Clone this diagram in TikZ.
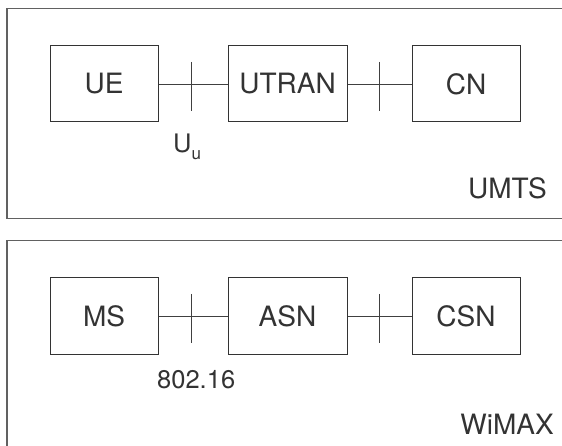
\documentclass[tikz,border=0pt]{standalone}
\usepackage{fontspec}
\setmainfont{TeX Gyre Heros}
\begin{document}
\begin{tikzpicture}[x=1pt,y=-1pt,
  frame/.style={draw=black!62,line width=1.2pt},
  unit/.style={draw=black!80,line width=1pt,minimum height=76pt,inner sep=0pt,text=black!80,font=\fontsize{28}{32}\selectfont},
  link/.style={draw=black!75,line width=0.9pt},
  lbl/.style={inner sep=0pt,text=black!80,font=\fontsize{28}{32}\selectfont},
  sublbl/.style={inner sep=0pt,text=black!80,font=\fontsize{25.5}{30}\selectfont}]
\useasboundingbox (0,0) rectangle (562,446);
\fill[white] (0,0) rectangle (562,446);
% frames
\draw[frame] (563,8.5) -| (7,218.5) -- (563,218.5);
\draw[frame] (563,240.5) -| (7,447);
% UMTS row
\node[unit,minimum width=108pt] (ue) at (104,84) {UE};
\node[unit,minimum width=119pt] (utran) at (287.5,84) {UTRAN};
\node[unit,minimum width=108pt] (cn) at (466,84) {CN};
\draw[link] (ue) -- (utran);
\draw[link] (utran) -- (cn);
\coordinate (t1a) at (191,62); \coordinate (t1b) at (191,111);
\coordinate (t2a) at (379,62); \coordinate (t2b) at (379,111);
\draw[link] (t1a) -- (t1b);
\draw[link] (t2a) -- (t2b);
\node[sublbl,anchor=base west] (uu) at (173,153) {U\raisebox{-7pt}{\fontsize{17}{17}\selectfont u}};
\node[lbl,anchor=base east] (umts) at (547,199) {UMTS};
% WiMAX row
\node[unit,minimum width=108pt] (ms) at (104,316) {MS};
\node[unit,minimum width=119pt] (asn) at (287.5,316) {ASN};
\node[unit,minimum width=108pt] (csn) at (466,316) {CSN};
\draw[link] (ms) -- (asn);
\draw[link] (asn) -- (csn);
\coordinate (t3a) at (191,294); \coordinate (t3b) at (191,343);
\coordinate (t4a) at (379,294); \coordinate (t4b) at (379,343);
\draw[link] (t3a) -- (t3b);
\draw[link] (t4a) -- (t4b);
\node[sublbl,anchor=base west] (std) at (157,388) {802.16};
\node[lbl,anchor=base east] (wimax) at (554,434) {WiMAX};
\end{tikzpicture}
\end{document}
